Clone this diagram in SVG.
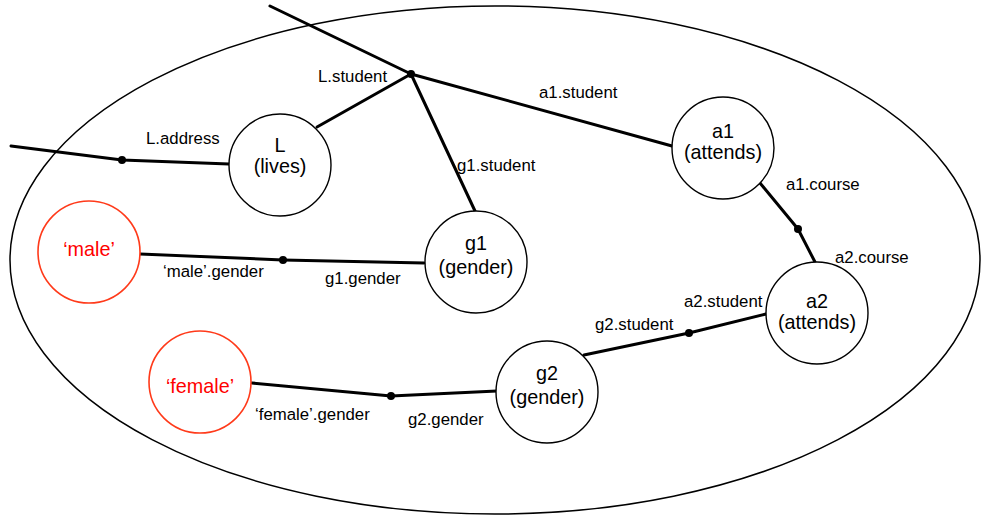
<svg xmlns="http://www.w3.org/2000/svg" width="981" height="517" viewBox="0 0 981 517">
<style>
text{font-family:"Liberation Sans",Arial,sans-serif;fill:#000}
.lbl{font-size:16.8px}
.nt{font-size:19.8px;text-anchor:middle}
.node{fill:#fff;stroke:#000;stroke-width:1.4}
.cnode{fill:#fff;stroke:#ff3a1a;stroke-width:1.6}
.ct{fill:#ff0000}
.edge{fill:none;stroke:#000;stroke-width:3;stroke-linecap:round;stroke-linejoin:round}
.dot{fill:#000}
</style>
<rect width="981" height="517" fill="#fff"/>
<ellipse id="boundary" cx="495" cy="260" rx="485" ry="254" fill="none" stroke="#000" stroke-width="1.5"/>
<g id="connectors">
<polyline class="edge" points="270,6 411,74 672,146"/>
<line class="edge" x1="411" y1="74" x2="317" y2="127"/>
<line class="edge" x1="411" y1="74" x2="475" y2="211"/>
<polyline class="edge" points="11,146 122,160 229,164"/>
<polyline class="edge" points="140,254 283,260 424,263"/>
<polyline class="edge" points="252,383 391,396 497,391"/>
<polyline class="edge" points="584,355 689,333 766,314"/>
<polyline class="edge" points="760,183 798,229 815,262"/>
<circle class="dot" cx="411" cy="74" r="4"/>
<circle class="dot" cx="122" cy="160" r="4"/>
<circle class="dot" cx="283" cy="260" r="4"/>
<circle class="dot" cx="391" cy="396" r="4"/>
<circle class="dot" cx="689" cy="333" r="4"/>
<circle class="dot" cx="798" cy="229" r="4"/>
<text class="lbl" x="318" y="82">L.student</text>
<text class="lbl" x="146" y="144">L.address</text>
<text class="lbl" x="457" y="171">g1.student</text>
<text class="lbl" x="539" y="98">a1.student</text>
<text class="lbl" x="786" y="190">a1.course</text>
<text class="lbl" x="835" y="263">a2.course</text>
<text class="lbl" x="684" y="307">a2.student</text>
<text class="lbl" x="595" y="330">g2.student</text>
<text class="lbl" x="163" y="277">‘male’.gender</text>
<text class="lbl" x="325" y="284">g1.gender</text>
<text class="lbl" x="255" y="420">‘female’.gender</text>
<text class="lbl" x="408" y="425">g2.gender</text>
</g>
<g id="L">
<circle class="node" cx="280" cy="165" r="51"/>
<text class="nt" x="280" y="152">L</text>
<text class="nt" x="280" y="173">(lives)</text>
</g>
<g id="a1">
<circle class="node" cx="723" cy="148" r="51"/>
<text class="nt" x="723" y="138">a1</text>
<text class="nt" x="723" y="159">(attends)</text>
</g>
<g id="g1">
<circle class="node" cx="476" cy="262" r="51"/>
<text class="nt" x="476" y="250">g1</text>
<text class="nt" x="476" y="274">(gender)</text>
</g>
<g id="a2">
<circle class="node" cx="817" cy="313" r="51"/>
<text class="nt" x="817" y="308">a2</text>
<text class="nt" x="817" y="329">(attends)</text>
</g>
<g id="g2">
<circle class="node" cx="547" cy="392" r="51"/>
<text class="nt" x="547" y="380">g2</text>
<text class="nt" x="547" y="404">(gender)</text>
</g>
<g id="male">
<circle class="cnode" cx="89" cy="252" r="51"/>
<text class="nt ct" x="89" y="256">‘male’</text>
</g>
<g id="female">
<circle class="cnode" cx="200" cy="382" r="51"/>
<text class="nt ct" x="200" y="393">‘female’</text>
</g>
</svg>
